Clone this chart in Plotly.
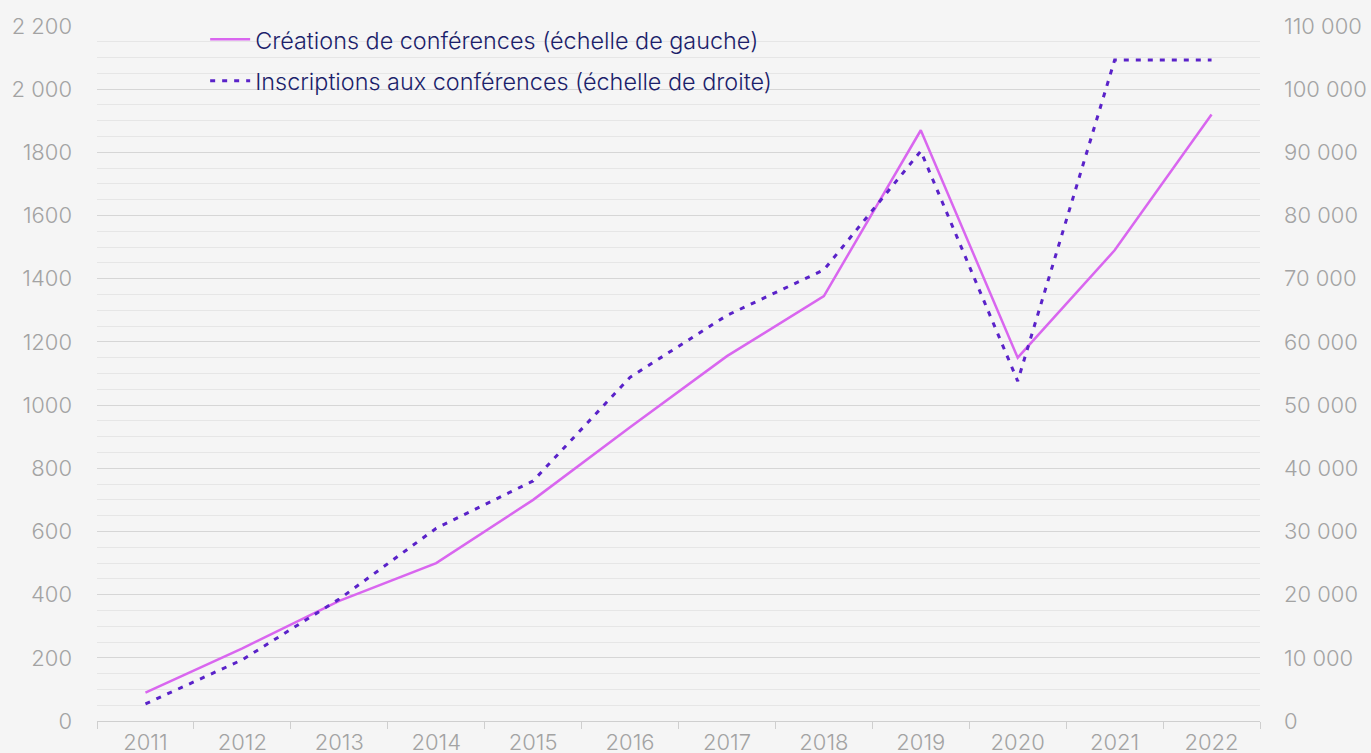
import plotly.graph_objects as go

years = ["2011", "2012", "2013", "2014", "2015", "2016", "2017", "2018", "2019", "2020", "2021", "2022"]
creations = [90, 230, 380, 500, 700, 930, 1155, 1345, 1870, 1150, 1490, 1920]
inscriptions = [2700, 9700, 19300, 30500, 38000, 54400, 64200, 71400, 90200, 53800, 104600, 104600]

left_ticks = [0, 200, 400, 600, 800, 1000, 1200, 1400, 1600, 1800, 2000, 2200]
left_labels = ["0", "200", "400", "600", "800", "1000", "1200", "1400", "1600", "1800", "2 000", "2 200"]
right_ticks = [0, 10000, 20000, 30000, 40000, 50000, 60000, 70000, 80000, 90000, 100000, 110000]
right_labels = ["0", "10 000", "20 000", "30 000", "40 000", "50 000", "60 000", "70 000",
                "80 000", "90 000", "100 000", "110 000"]

tick_font = dict(family="Inter", size=22, color="#a3a3a3", weight=300)

fig = go.Figure()
fig.add_trace(go.Scatter(
    x=years, y=creations,
    name="Créations de conférences (échelle de gauche)",
    legendgroup="a",
    mode="lines",
    line=dict(color="#d966ef", width=2.5),
))
fig.add_trace(go.Scatter(
    x=years, y=inscriptions,
    name="Inscriptions aux conférences (échelle de droite)",
    legendgroup="b",
    mode="lines",
    yaxis="y2",
    line=dict(color="#5a22c9", width=3, dash="5px,7px"),
))

fig.update_layout(
    width=1371, height=753,
    paper_bgcolor="#f5f5f5",
    plot_bgcolor="#f5f5f5",
    margin=dict(l=97, r=111, t=26, b=32, autoexpand=False),
    font=dict(family="Inter"),
    showlegend=True,
    legend=dict(
        x=0.093, y=1.012, xanchor="left", yanchor="top",
        bgcolor="rgba(0,0,0,0)",
        font=dict(family="Inter", size=23.4, color="#1c1f6b", weight=300),
        tracegroupgap=8,
        itemwidth=40,
    ),
    xaxis=dict(
        type="category",
        tickson="boundaries",
        ticks="outside", ticklen=7, tickcolor="#cfcfcf", tickwidth=1,
        showline=True, linecolor="#cfcfcf", linewidth=1,
        showgrid=False, zeroline=False,
        tickfont=tick_font,
        range=[-0.5, 11.5],
        automargin=False,
        ticklabelstandoff=2,
    ),
    yaxis=dict(
        range=[0, 2200],
        tickvals=left_ticks, ticktext=left_labels,
        tickfont=tick_font,
        showgrid=True, gridcolor="#d6d6d6", gridwidth=1,
        minor=dict(dtick=50, showgrid=True, gridcolor="#e6e6e6", gridwidth=1),
        zeroline=False,
        ticks="", ticklabelstandoff=24,
        automargin=False,
    ),
    yaxis2=dict(
        range=[0, 110000],
        overlaying="y", side="right",
        tickvals=right_ticks, ticktext=right_labels,
        tickfont=tick_font,
        showgrid=False, zeroline=False,
        ticks="", ticklabelstandoff=23,
        automargin=False,
    ),
)

# the page's default body margin would shift the chart by 8px
fig.write_html(
    "out.html",
    config={"displayModeBar": False},
    post_script="document.body.style.margin='0';",
)
